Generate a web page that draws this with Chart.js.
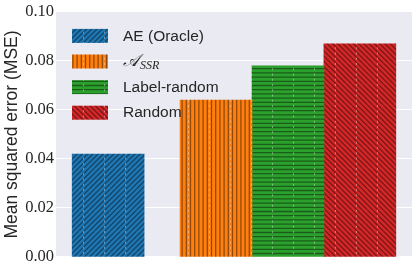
<!DOCTYPE html>
<html><head><meta charset="utf-8">
<script src="https://cdn.jsdelivr.net/npm/chart.js@4.4.1/dist/chart.umd.min.js"></script>
<style>html,body{margin:0;padding:0;background:#fff}#wrap{width:415px;height:270px}</style>
</head><body><div id="wrap"><canvas id="c" width="415" height="270"></canvas></div>
<script>
// ---- data ----
const seriesNames = ['AE (Oracle)', '𝒜_SSR', 'Label-random', 'Random'];
const seriesPositions = [0, 1.5, 2.5, 3.5];
const seriesValues = [0.042, 0.064, 0.078, 0.087];
const yTickValues = [0.00, 0.02, 0.04, 0.06, 0.08, 0.10];
const yAxisTitle = 'Mean squared error (MSE)';

// ---- styles ----
const colors = ['#1f77b4', '#ff7f0e', '#2ca02c', '#d62728'];
const hatchKinds = ['/', '|', '-', '\\'];
const TILE = 21;

function makePattern(color, kind) {
  const t = document.createElement('canvas');
  t.width = TILE; t.height = TILE;
  const g = t.getContext('2d');
  g.fillStyle = color; g.fillRect(0, 0, TILE, TILE);
  g.strokeStyle = 'rgba(0,0,0,0.42)';
  g.lineWidth = 1.3;
  g.beginPath();
  const step = TILE / 4;
  if (kind === '/') {
    for (let o = -TILE; o <= 2 * TILE; o += step) { g.moveTo(o, TILE); g.lineTo(o + TILE, 0); }
  } else if (kind === '\\') {
    for (let o = -TILE; o <= 2 * TILE; o += step) { g.moveTo(o, 0); g.lineTo(o + TILE, TILE); }
  } else if (kind === '|') {
    const s = TILE / 5;
    for (let k = 0; k < 5; k++) { const x = k * s + 1.5; g.moveTo(x, 0); g.lineTo(x, TILE); }
  } else if (kind === '-') {
    const s = TILE / 5;
    for (let k = 0; k < 5; k++) { const y = k * s + 1.5; g.moveTo(0, y); g.lineTo(TILE, y); }
  }
  g.stroke();
  g.strokeStyle = 'rgba(235,235,235,0.45)';
  g.lineWidth = 1;
  g.setLineDash([2, 3.25]);
  g.beginPath(); g.moveTo(20.5, 0); g.lineTo(20.5, TILE); g.stroke();
  return document.createElement('canvas').getContext('2d').createPattern(t, 'repeat');
}
const patterns = colors.map((c, i) => makePattern(c, hatchKinds[i]));

const bgPlugin = {
  id: 'bg',
  beforeDraw(chart) {
    const { ctx, chartArea: a } = chart;
    ctx.save();
    ctx.fillStyle = '#ffffff';
    ctx.fillRect(0, 0, chart.width, chart.height);
    ctx.fillStyle = '#EAEAF2';
    ctx.fillRect(a.left, a.top, a.right - a.left, a.bottom - a.top);
    ctx.restore();
  }
};

const legendPlugin = {
  id: 'hatchLegend',
  afterDatasetsDraw(chart) {
    const { ctx, chartArea: a } = chart;
    ctx.save();
    const x0 = a.left + 16, w = 36, h = 14;
    seriesNames.forEach((name, i) => {
      const cy = a.top + 24 + i * 25.6;
      ctx.fillStyle = patterns[i];
      ctx.fillRect(x0, cy - h / 2, w, h);
      ctx.fillStyle = '#262626';
      ctx.textBaseline = 'middle';
      ctx.textAlign = 'left';
      const tx = x0 + w + 15;
      if (name.includes('_')) {
        const [main, sub] = name.split('_');
        ctx.font = 'italic 17px "DejaVu Serif", "DejaVu Sans", serif';
        ctx.fillText(main, tx, cy);
        const mw = ctx.measureText(main).width;
        ctx.font = 'italic 12px "Liberation Serif", serif';
        ctx.fillText(sub, tx + mw + 1, cy + 4);
      } else {
        ctx.font = '15.5px "Liberation Sans", Arial, sans-serif';
        ctx.fillText(name, tx, cy + 0.5);
      }
    });
    ctx.restore();
  }
};

const datasets = seriesNames.map((name, i) => ({
  label: name,
  data: [{ x: seriesPositions[i], y: seriesValues[i] }],
  backgroundColor: patterns[i],
  borderWidth: 0,
  grouped: false,
  barPercentage: 1,
  categoryPercentage: 1
}));

new Chart(document.getElementById('c'), {
  type: 'bar',
  data: { datasets },
  plugins: [bgPlugin, legendPlugin],
  options: {
    responsive: false,
    animation: false,
    devicePixelRatio: 1,
    layout: { padding: { top: 10, right: 3, bottom: 13, left: 0 } },
    plugins: { legend: { display: false }, tooltip: { enabled: false } },
    scales: {
      x: {
        type: 'linear',
        offset: false,
        min: -0.725, max: 4.225,
        display: false,
        afterBuildTicks: s => { s.ticks = [{ value: -0.725 }, { value: 4.225 }]; }
      },
      y: {
        min: 0, max: 0.1,
        afterBuildTicks: s => { s.ticks = yTickValues.map(v => ({ value: v })); },
        afterFit: s => { s.width = 56; },
        border: { display: false },
        grid: { color: '#ffffff', lineWidth: 1.1, drawTicks: false },
        ticks: {
          padding: 2,
          color: '#262626',
          font: { family: '"Liberation Serif", serif', size: 16.5 },
          callback: v => Number(v).toFixed(2)
        },
        title: {
          display: true,
          text: yAxisTitle,
          color: '#262626',
          font: { family: '"Liberation Sans", Arial, sans-serif', size: 17.5 },
          padding: { top: 1.5, bottom: 0 }
        }
      }
    }
  }
});
</script>
</body></html>
